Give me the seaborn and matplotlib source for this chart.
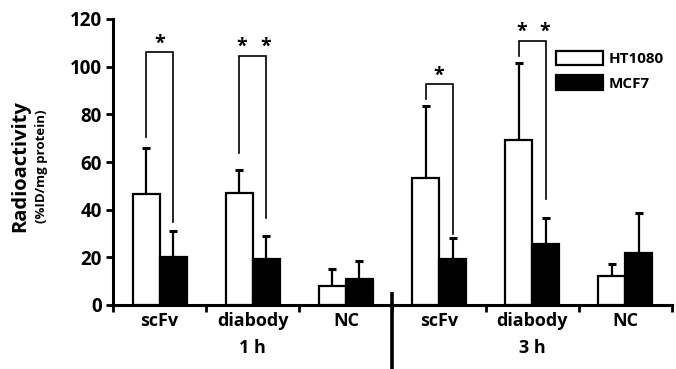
import matplotlib
matplotlib.use("Agg")
import matplotlib.pyplot as plt
from matplotlib.patches import Patch
import seaborn as sns
import pandas as pd
import numpy as np

# ---- data ----
agents = ["scFv", "diabody", "NC", "scFv", "diabody", "NC"]
times = ["1 h", "1 h", "1 h", "3 h", "3 h", "3 h"]
series = ["HT1080", "MCF7"]
ht1080 = [46.4, 46.9, 8.1, 53.4, 69.2, 12.2]
ht1080_sd = [19.6, 9.7, 6.9, 30.1, 32.2, 5.0]
mcf7 = [20.0, 19.3, 10.8, 19.2, 25.7, 21.8]
mcf7_sd = [11.2, 9.8, 7.8, 8.9, 10.7, 16.9]
yticks = [0, 20, 40, 60, 80, 100, 120]
# significance brackets: group index, bracket top, left leg bottom, right leg bottom, label
sig_idx = [0, 1, 3, 4]
sig_top = [106.0, 104.5, 92.6, 110.9]
sig_left = [70.6, 63.8, 86.3, 104.5]
sig_right = [35.0, 36.6, 30.0, 44.3]
sig_label = ["*", "* *", "*", "* *"]

FONT = ['Open Sans', 'DejaVu Sans']
plt.rcParams['font.family'] = FONT
plt.rcParams['font.weight'] = 'bold'

cats = [f"{a}|{t}" for a, t in zip(agents, times)]
df = pd.DataFrame({
    "cat": cats * 2,
    "series": [series[0]] * 6 + [series[1]] * 6,
    "value": ht1080 + mcf7,
})

fig = plt.figure(figsize=(6.76, 3.69), dpi=100)
ax = fig.add_axes([113/676, 1 - 305/369, (672 - 113)/676, (305 - 19)/369])
sns.barplot(data=df, x="cat", y="value", hue="series", order=cats,
            hue_order=series, palette=["white", "black"], width=0.58,
            edgecolor="black", linewidth=1.6, errorbar=None, ax=ax,
            legend=False, zorder=3)

# error bars (upper only), positioned from the drawn bars
bars = ax.patches
w_bars = bars[:6]
b_bars = bars[6:12]
for group, sds in ((w_bars, ht1080_sd), (b_bars, mcf7_sd)):
    for p, sd in zip(group, sds):
        xc = p.get_x() + p.get_width() / 2
        h = p.get_height()
        ax.errorbar([xc], [h], yerr=[[0], [sd]], fmt="none", ecolor="black",
                    elinewidth=1.6, capsize=3, capthick=2.2, zorder=2)

# significance brackets
for i, top, lb, rb, lab in zip(sig_idx, sig_top, sig_left, sig_right, sig_label):
    xl = w_bars[i].get_x() + w_bars[i].get_width() / 2
    xr = b_bars[i].get_x() + b_bars[i].get_width() / 2
    ax.plot([xl, xl, xr, xr], [lb, top, top, rb], color="black", lw=1.2,
            solid_joinstyle="miter", zorder=4)
    if lab == "*":
        xs = [(xl + xr) / 2]
    else:
        xs = [xl + 0.03, xr - 0.01]
    for xx in xs:
        ax.text(xx, top - 0.5, "*", ha="center", va="bottom",
                fontsize=14, fontweight="bold")

ax.set_xlim(-0.5, 5.5)
ax.set_ylim(0, 120)
ax.set_yticks(yticks)
ax.set_yticklabels([str(v) for v in yticks], fontsize=13.5, fontweight="bold")
ax.set_xticks(np.arange(-0.5, 6, 1.0))
ax.set_xticklabels([""] * 7)
ax.set_xticks(np.arange(6), minor=True)
ax.set_xticklabels(agents, minor=True, fontsize=13, fontweight="bold")
ax.tick_params(axis="x", which="minor", length=0, pad=5)
ax.tick_params(axis="x", which="major", direction="out", length=5, width=2)
ax.tick_params(axis="y", direction="out", length=5, width=2, pad=3)
ax.set_xlabel("")
ax.set_ylabel("")
for s in ("top", "right"):
    ax.spines[s].set_visible(False)
for s in ("left", "bottom"):
    ax.spines[s].set_linewidth(2.2)

# group labels
for xx, t in ((1, "1 h"), (4, "3 h")):
    ax.text(xx, -0.15, t, transform=ax.get_xaxis_transform(), ha="center",
            va="center", fontsize=13, fontweight="bold")

# separator line
ax.plot([2.5, 2.5], [0.045, -0.225], transform=ax.get_xaxis_transform(),
        color="black", lw=2.6, clip_on=False, solid_capstyle="butt")

# y label
fig.text(20/676, 0.55, "Radioactivity", rotation=90, ha="center", va="center",
         fontsize=14.5, fontweight="bold")
fig.text(42/676, 0.55, "(%ID/mg protein)", rotation=90, ha="center", va="center",
         fontsize=9.5, fontweight="bold")

handles = [Patch(facecolor="white", edgecolor="black", linewidth=1.6),
           Patch(facecolor="black", edgecolor="black", linewidth=1.6)]
leg = fig.legend(handles, series, loc="upper left",
                 bbox_to_anchor=(556/676, 1 - 51/369), frameon=False,
                 handlelength=3.1, handleheight=1.05,
                 labelspacing=0.6, borderpad=0, borderaxespad=0,
                 handletextpad=0.35, prop={"family": FONT, "weight": "bold", "size": 11})

fig.savefig("out.png", dpi=100)
